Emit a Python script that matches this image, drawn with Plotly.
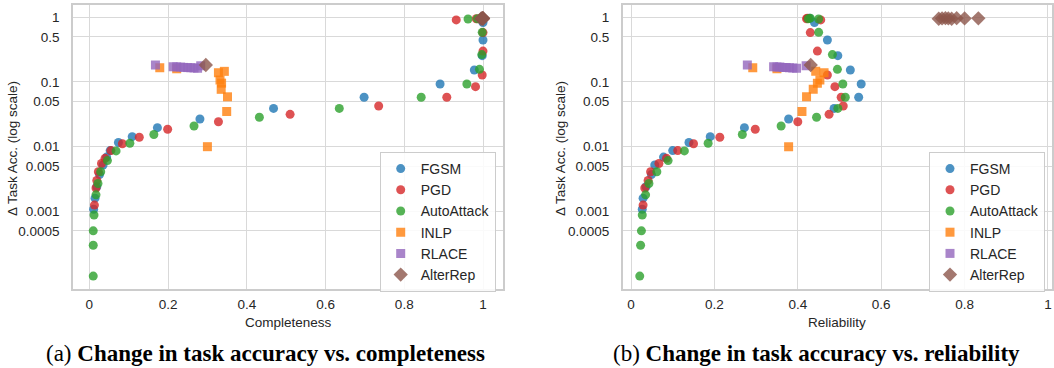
import plotly.graph_objects as go

W, H = 1054, 368

methods = ["FGSM", "PGD", "AutoAttack", "INLP", "RLACE", "AlterRep"]
colors = ["#1f77b4", "#d62728", "#2ca02c", "#ff7f0e", "#9467bd", "#8c564b"]
symbols = ["circle", "circle", "circle", "square", "square", "diamond"]
sizes = [9, 9, 9, 9, 9, 11]

# Δ Task accuracy (shared by both panels)
fgsm_y = [0.97, 0.83, 0.446, 0.255, 0.153, 0.093, 0.058, 0.039, 0.0268, 0.0197, 0.0143, 0.0116, 0.0087, 0.0069, 0.0052, 0.0037, 0.0024, 0.0016, 0.00108]
fgsm_comp = [0.998, 1.0, 1.0, 0.998, 0.978, 0.891, 0.698, 0.468, 0.281, 0.173, 0.109, 0.074, 0.053, 0.044, 0.035, 0.026, 0.019, 0.0145, 0.011]
fgsm_rel = [0.428, 0.44, 0.471, 0.496, 0.526, 0.552, 0.546, 0.487, 0.378, 0.272, 0.19, 0.139, 0.10, 0.078, 0.057, 0.049, 0.036, 0.029, 0.027]

pgd_y = [0.97, 0.95, 0.91, 0.58, 0.30, 0.128, 0.0846, 0.058, 0.0426, 0.0316, 0.0243, 0.0186, 0.014, 0.0111, 0.0087, 0.0066, 0.0055, 0.0041, 0.003, 0.0023, 0.00125]
pgd_comp = [0.995, 0.983, 0.932, 1.0, 1.0, 0.998, 0.981, 0.908, 0.735, 0.51, 0.328, 0.199, 0.127, 0.084, 0.055, 0.04, 0.031, 0.023, 0.019, 0.017, 0.013]
pgd_rel = [0.423, 0.421, 0.455, 0.43, 0.447, 0.471, 0.489, 0.504, 0.509, 0.475, 0.40, 0.298, 0.213, 0.15, 0.112, 0.085, 0.067, 0.047, 0.041, 0.033, 0.029]

aa_y = [0.97, 0.95, 0.94, 0.586, 0.265, 0.157, 0.093, 0.058, 0.039, 0.0285, 0.0209, 0.0154, 0.0113, 0.0086, 0.0061, 0.0041, 0.0027, 0.0018, 0.00088, 0.0005, 0.0003, 0.0001]
aa_comp = [0.997, 0.986, 0.962, 0.998, 0.997, 0.991, 0.959, 0.843, 0.635, 0.432, 0.266, 0.164, 0.103, 0.068, 0.046, 0.029, 0.022, 0.017, 0.012, 0.010, 0.010, 0.010]
aa_rel = [0.43, 0.425, 0.45, 0.45, 0.483, 0.495, 0.508, 0.514, 0.496, 0.445, 0.36, 0.267, 0.185, 0.128, 0.089, 0.062, 0.043, 0.035, 0.027, 0.025, 0.023, 0.021]

inlp_y = [0.166, 0.16, 0.146, 0.139, 0.107, 0.096, 0.077, 0.059, 0.035, 0.01]
inlp_comp = [0.179, 0.222, 0.343, 0.328, 0.332, 0.336, 0.335, 0.351, 0.349, 0.30]
inlp_rel = [0.292, 0.35, 0.443, 0.463, 0.453, 0.447, 0.437, 0.421, 0.41, 0.378]

rlace_y = [0.183, 0.172, 0.171, 0.17, 0.168, 0.167, 0.166, 0.165, 0.163, 0.178]
rlace_comp = [0.168, 0.213, 0.222, 0.232, 0.24, 0.25, 0.258, 0.266, 0.275, 0.283]
rlace_rel = [0.279, 0.342, 0.35, 0.357, 0.365, 0.372, 0.38, 0.388, 0.397, 0.42]

alter_y = [0.183, 0.95, 0.96, 0.97, 0.96, 0.95, 0.97, 0.96, 0.965]
alter_comp = [0.296, 0.995, 0.997, 0.998, 0.999, 1.0, 1.0, 1.0, 1.0]
alter_rel = [0.431, 0.738, 0.746, 0.754, 0.761, 0.769, 0.781, 0.80, 0.833]

ys = [fgsm_y, pgd_y, aa_y, inlp_y, rlace_y, alter_y]
comps = [fgsm_comp, pgd_comp, aa_comp, inlp_comp, rlace_comp, alter_comp]
rels = [fgsm_rel, pgd_rel, aa_rel, inlp_rel, rlace_rel, alter_rel]

x_ticks = [0, 0.2, 0.4, 0.6, 0.8, 1]
x_ticktext = ["0", "0.2", "0.4", "0.6", "0.8", "1"]
y_ticks = [0.0005, 0.001, 0.005, 0.01, 0.05, 0.1, 0.5, 1]
y_ticktext = ["0.0005", "0.001", "0.005", "0.01", "0.05", "0.1", "0.5", "1"]

x_title_left = "Completeness"
x_title_right = "Reliability"
y_title = "Δ Task Acc. (log scale)"
caption_a = ("(a) ", "Change in task accuracy vs. completeness")
caption_b = ("(b) ", "Change in task accuracy vs. reliability")

fig = go.Figure()
for i, m in enumerate(methods):
    for panel, xs in ((1, comps[i]), (2, rels[i])):
        fig.add_trace(go.Scatter(
            x=xs, y=ys[i], mode="markers", name=m,
            xaxis="x" if panel == 1 else "x2",
            yaxis="y" if panel == 1 else "y2",
            legend="legend" if panel == 1 else "legend2",
            marker=dict(symbol=symbols[i], size=sizes[i], color=colors[i],
                        opacity=0.8, line=dict(width=0)),
            showlegend=True,
        ))

TXT = "#262626"
GRID = "#d9d9d9"
LINE = "#cccccc"
FONT = "Liberation Sans"

def px_x(p):
    return p / W

def px_y(p):
    return (H - p) / H

ydom = [px_y(289), px_y(5)]
common_x = dict(tickmode="array", tickvals=x_ticks, ticktext=x_ticktext,
                showgrid=True, gridcolor=GRID, gridwidth=1, zeroline=False,
                showline=True, linecolor=LINE, linewidth=1.5, mirror=True,
                ticks="", ticklabelstandoff=2, ticklabeloverflow="allow",
                tickfont=dict(family=FONT, size=13.5, color=TXT))
common_y = dict(type="log", range=[-4.2, 0.19], tickmode="array",
                tickvals=y_ticks, ticktext=y_ticktext, domain=ydom,
                showgrid=True, gridcolor=GRID, gridwidth=1, zeroline=False,
                showline=True, linecolor=LINE, linewidth=1.5, mirror=True,
                ticks="", ticklabelstandoff=9,
                tickfont=dict(family=FONT, size=13.5, color=TXT))

legend_common = dict(bgcolor="rgba(255,255,255,0.85)", bordercolor=LINE, borderwidth=1,
                     font=dict(family=FONT, size=14, color=TXT),
                     xanchor="right", yanchor="top", y=px_y(152))

fig.update_layout(
    width=W, height=H, margin=dict(l=0, r=0, t=0, b=0),
    paper_bgcolor="white", plot_bgcolor="white",
    xaxis=dict(domain=[px_x(73), px_x(503)], range=[-0.0414, 1.0508], anchor="y", **common_x),
    yaxis=dict(anchor="x", **common_y),
    xaxis2=dict(domain=[px_x(622.7), px_x(1051.7)], range=[-0.0199, 1.0089], anchor="y2", **common_x),
    yaxis2=dict(anchor="x2", **common_y),
    legend=dict(x=px_x(495.7), **legend_common),
    legend2=dict(x=px_x(1045), **legend_common),
    showlegend=True,
)

annotations = [
    dict(text=x_title_left, x=px_x(288), y=px_y(322)),
    dict(text=x_title_right, x=px_x(837), y=px_y(322)),
    dict(text=y_title, x=px_x(12), y=px_y(149), textangle=-90),
    dict(text=y_title, x=px_x(560), y=px_y(149), textangle=-90),
]
for a in annotations:
    fig.add_annotation(xref="paper", yref="paper", showarrow=False,
                       xanchor="center", yanchor="middle",
                       font=dict(family=FONT, size=13.5, color=TXT), **a)

for cap, cx in ((caption_a, 265), (caption_b, 816)):
    fig.add_annotation(xref="paper", yref="paper", showarrow=False,
                       x=px_x(cx), y=0, xanchor="center", yanchor="bottom",
                       text=cap[0] + "<b>" + cap[1] + "</b>",
                       font=dict(family="Liberation Serif", size=23, color="black"))

fig.write_html("out.html")
